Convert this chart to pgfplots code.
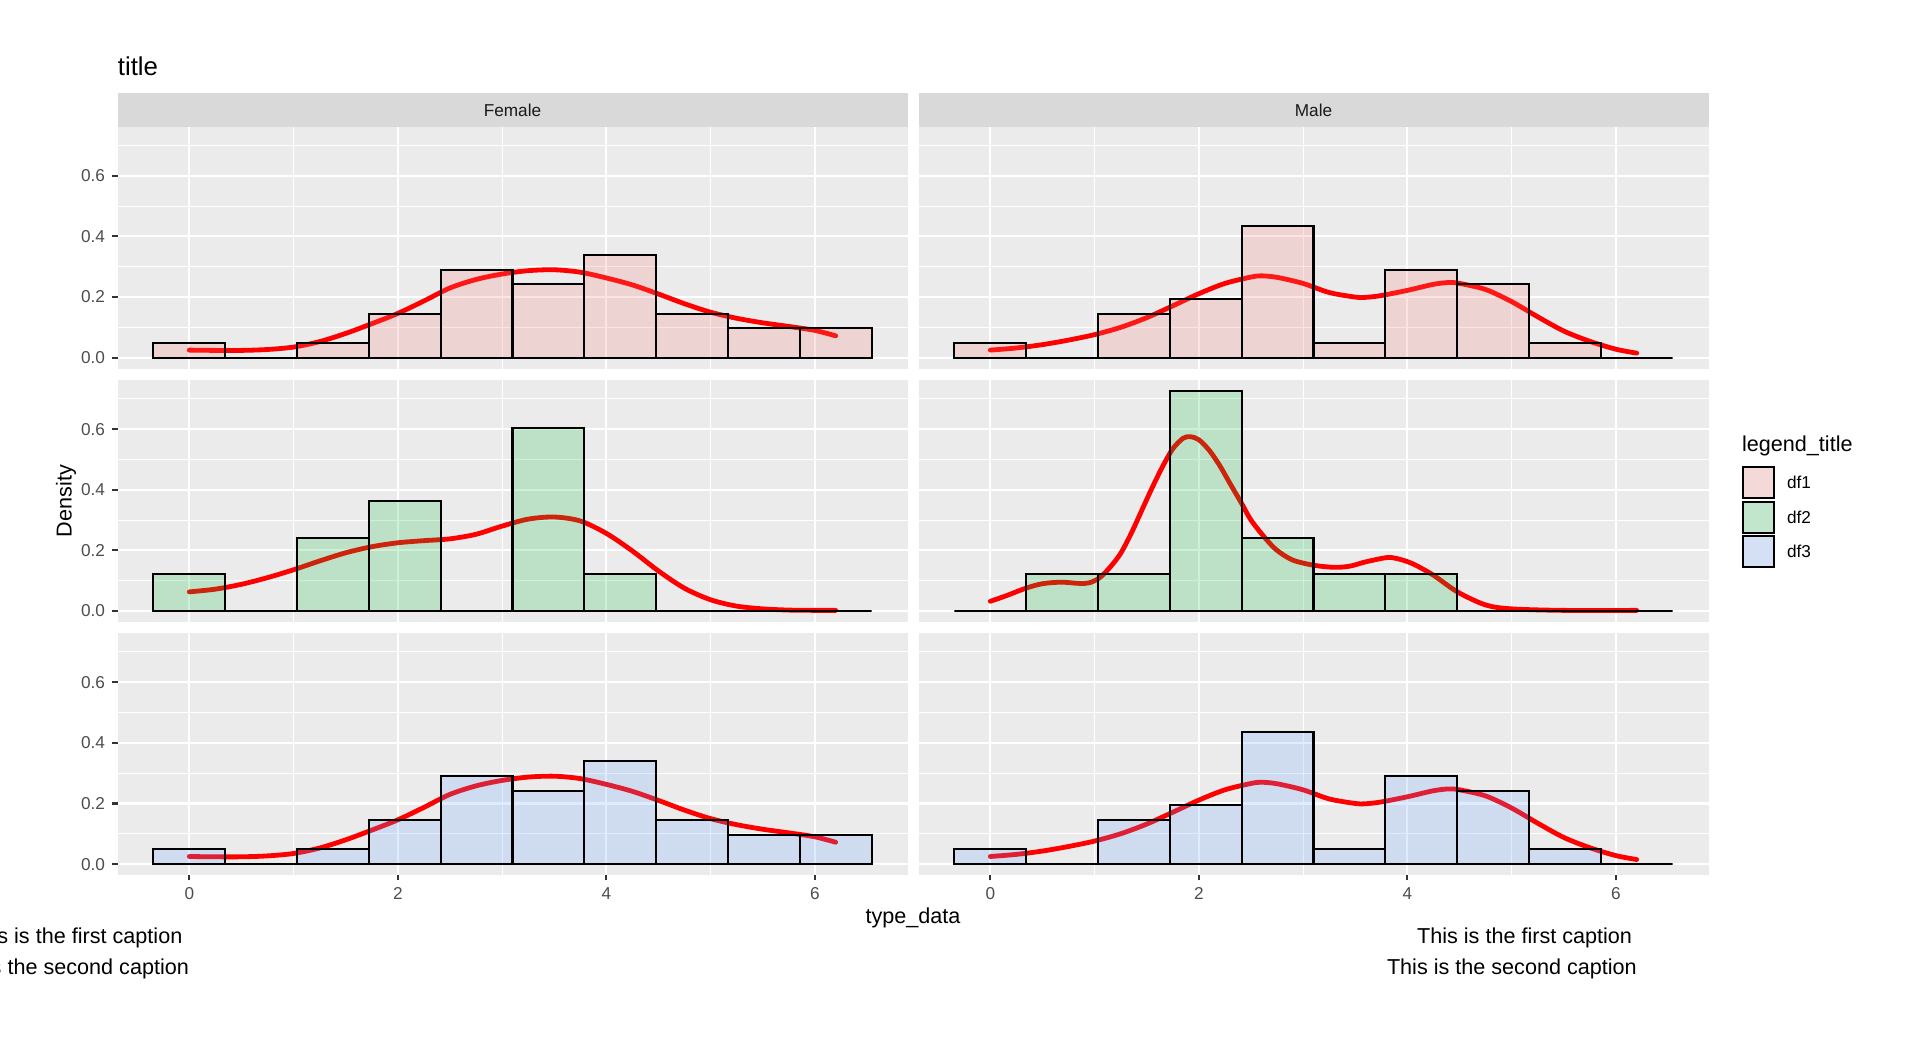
\documentclass[border=0pt]{standalone}
\usepackage{fontspec}
\setmainfont{Liberation Sans}
\usepackage{pgfplots}
\pgfplotsset{compat=1.18}

\definecolor{panelbg}{HTML}{EBEBEB}
\definecolor{stripbg}{HTML}{D9D9D9}
\definecolor{ticklab}{HTML}{4D4D4D}
\definecolor{tickcol}{HTML}{333333}
\definecolor{stripfg}{HTML}{1A1A1A}
\definecolor{hue1}{HTML}{F8766D}
\definecolor{hue2}{HTML}{00BA38}
\definecolor{hue3}{HTML}{619CFF}
\definecolor{keybg}{HTML}{F2F2F2}

\newcommand{\fs}[1]{\fontsize{#1}{#1}\selectfont}

\pgfplotsset{
  panel/.style={
    scale only axis, width=395pt, height=121pt,
    xmin=-0.68889, xmax=6.88889, ymin=-0.03629, ymax=0.76210,
    axis background/.style={fill=panelbg},
    axis line style={draw=none},
    xtick={0,2,4,6}, minor xtick={1,3,5},
    ytick={0,0.2,0.4,0.6}, minor ytick={0.1,0.3,0.5,0.7},
    grid=both,
    major grid style={white, line width=1.05pt},
    minor grid style={white, line width=0.52pt},
    tick align=outside, tick pos=left,
    major tick length=2.7pt, minor tick length=0pt,
    tick style={tickcol, line width=1.05pt},
    tick label style={font=\fs{8.6}, text=ticklab},
    /pgf/number format/assume math mode=true,
    yticklabel={\pgfmathprintnumber[fixed,fixed zerofill,precision=1]{\tick}},
    xmajorticks=false, ymajorticks=false,
    anchor=north west,
  },
  leftcol/.style={ymajorticks=true},
  bottomrow/.style={xmajorticks=true},
  dens/.style={red, line width=2.4pt, smooth, line cap=round},
  hist/.style={ybar, bar width=0.688889, bar shift=0pt, draw=black,
    line width=1.05pt, fill opacity=0.2},
}

% density estimates
\newcommand{\densFA}{(0,0.025) (0.25,0.024) (0.5,0.024) (0.75,0.027) (1.0,0.035) (1.25,0.053) (1.5,0.080) (1.75,0.112) (2.0,0.146) (2.25,0.187) (2.5,0.230) (2.75,0.258) (3.0,0.276) (3.25,0.287) (3.5,0.290) (3.75,0.282) (4.0,0.263) (4.25,0.240) (4.5,0.210) (4.75,0.178) (5.0,0.150) (5.25,0.130) (5.5,0.115) (5.75,0.103) (6.0,0.090) (6.2,0.072)}
\newcommand{\densMA}{(0,0.025) (0.25,0.032) (0.5,0.043) (0.75,0.058) (1.0,0.076) (1.25,0.100) (1.5,0.132) (1.75,0.171) (2.0,0.211) (2.25,0.245) (2.5,0.266) (2.6,0.270) (2.75,0.265) (3.0,0.245) (3.25,0.215) (3.5,0.200) (3.6,0.199) (3.75,0.205) (4.0,0.222) (4.25,0.242) (4.4,0.248) (4.5,0.245) (4.75,0.225) (5.0,0.185) (5.25,0.135) (5.5,0.088) (5.75,0.054) (6.0,0.028) (6.2,0.015)}
\newcommand{\densFB}{(0,0.063) (0.25,0.072) (0.5,0.088) (0.75,0.110) (1.0,0.136) (1.25,0.165) (1.5,0.192) (1.75,0.212) (2.0,0.225) (2.25,0.232) (2.5,0.238) (2.75,0.253) (3.0,0.280) (3.25,0.303) (3.5,0.310) (3.75,0.297) (4.0,0.256) (4.25,0.198) (4.5,0.132) (4.75,0.075) (5.0,0.037) (5.25,0.016) (5.5,0.007) (5.75,0.003) (6.0,0.002) (6.2,0.002)}
\newcommand{\densMB}{(0,0.032) (0.15,0.050) (0.34,0.075) (0.5,0.090) (0.68,0.095) (0.85,0.091) (0.95,0.093) (1.05,0.110) (1.15,0.145) (1.25,0.190) (1.35,0.255) (1.45,0.330) (1.55,0.405) (1.65,0.475) (1.75,0.535) (1.85,0.570) (1.92,0.575) (2.0,0.565) (2.1,0.530) (2.2,0.480) (2.3,0.420) (2.41,0.355) (2.5,0.300) (2.64,0.239) (2.75,0.200) (2.9,0.168) (3.1,0.151) (3.3,0.144) (3.45,0.148) (3.6,0.162) (3.8,0.176) (3.9,0.173) (4.05,0.156) (4.25,0.118) (4.48,0.063) (4.75,0.020) (5.0,0.007) (5.5,0.002) (6.2,0.002)}

% histogram densities, bins of width 0.6889 centred on 0 ... 6.2
\newcommand{\histFA}{(0,0.0484) (0.68889,0) (1.37778,0.0484) (2.06667,0.1452) (2.75556,0.2903) (3.44444,0.2419) (4.13333,0.3387) (4.82222,0.1452) (5.51111,0.0968) (6.2,0.0968)}
\newcommand{\histMA}{(0,0.0484) (0.68889,0) (1.37778,0.1452) (2.06667,0.1935) (2.75556,0.4355) (3.44444,0.0484) (4.13333,0.2903) (4.82222,0.2419) (5.51111,0.0484) (6.2,0)}
\newcommand{\histFB}{(0,0.1210) (0.68889,0) (1.37778,0.2419) (2.06667,0.3629) (2.75556,0) (3.44444,0.6048) (4.13333,0.1210) (4.82222,0) (5.51111,0) (6.2,0)}
\newcommand{\histMB}{(0,0) (0.68889,0.1210) (1.37778,0.1210) (2.06667,0.7258) (2.75556,0.2419) (3.44444,0.1210) (4.13333,0.1210) (4.82222,0) (5.51111,0) (6.2,0)}

\begin{document}
\begin{tikzpicture}
% facet strips
\fill[stripbg] (58.75pt,457.65pt) rectangle (453.75pt,474.35pt);
\fill[stripbg] (459.25pt,457.65pt) rectangle (854.25pt,474.35pt);
\node[text=stripfg, font=\fs{8.6}] at (256.25pt,466pt) {Female};
\node[text=stripfg, font=\fs{8.6}] at (656.75pt,466pt) {Male};

% row df1
\begin{axis}[panel, leftcol, at={(58.75pt,457.65pt)}]
  \addplot[dens] coordinates {\densFA};
  \addplot[hist, fill=hue1] coordinates {\histFA};
\end{axis}
\begin{axis}[panel, at={(459.25pt,457.65pt)}]
  \addplot[dens] coordinates {\densMA};
  \addplot[hist, fill=hue1] coordinates {\histMA};
\end{axis}

% row df2
\begin{axis}[panel, leftcol, at={(58.75pt,331pt)}]
  \addplot[dens] coordinates {\densFB};
  \addplot[hist, fill=hue2] coordinates {\histFB};
\end{axis}
\begin{axis}[panel, at={(459.25pt,331pt)}]
  \addplot[dens] coordinates {\densMB};
  \addplot[hist, fill=hue2] coordinates {\histMB};
\end{axis}

% row df3
\begin{axis}[panel, leftcol, bottomrow, at={(58.75pt,204.45pt)}]
  \addplot[dens] coordinates {\densFA};
  \addplot[hist, fill=hue3] coordinates {\histFA};
\end{axis}
\begin{axis}[panel, bottomrow, at={(459.25pt,204.45pt)}]
  \addplot[dens] coordinates {\densMA};
  \addplot[hist, fill=hue3] coordinates {\histMA};
\end{axis}

% titles
\node[anchor=base west, font=\fs{12.9}, inner sep=0pt] at (58.75pt,483pt) {title};
\node[anchor=base, font=\fs{10.8}, inner sep=0pt] at (456.5pt,59pt) {type\_data};
\node[rotate=90, font=\fs{10.8}] at (33pt,270.5pt) {Density};

% legend
\node[anchor=base west, font=\fs{10.8}, inner sep=0pt] at (870.85pt,295.15pt) {legend\_title};
\foreach \c/\lab/\yt in {hue1/df1/288, hue2/df2/270.7, hue3/df3/253.4}{
  \fill[keybg] (870.85pt,\yt pt) rectangle ++(16.65pt,-16.65pt);
  \filldraw[fill=\c, fill opacity=0.2, draw=black, line width=1.05pt]
    (871.4pt,\yt pt-0.55pt) rectangle ++(15.55pt,-15.55pt);
  \node[anchor=west, font=\fs{8.6}, inner sep=0pt] at (893.35pt,\yt pt-8.3pt) {\lab};
}

% captions
\node[anchor=base east, font=\fs{10.8}, inner sep=0pt] at (91.35pt,49.35pt) {This is the first caption};
\node[anchor=base east, font=\fs{10.8}, inner sep=0pt] at (94.65pt,33.5pt) {This is the second caption};
\node[anchor=base west, font=\fs{10.8}, inner sep=0pt] at (708.35pt,49.35pt) {This is the first caption};
\node[anchor=base west, font=\fs{10.8}, inner sep=0pt] at (693.3pt,33.5pt) {This is the second caption};

\pgfresetboundingbox
\path[use as bounding box] (0pt,0pt) rectangle (960pt,521pt);
\end{tikzpicture}
\end{document}
